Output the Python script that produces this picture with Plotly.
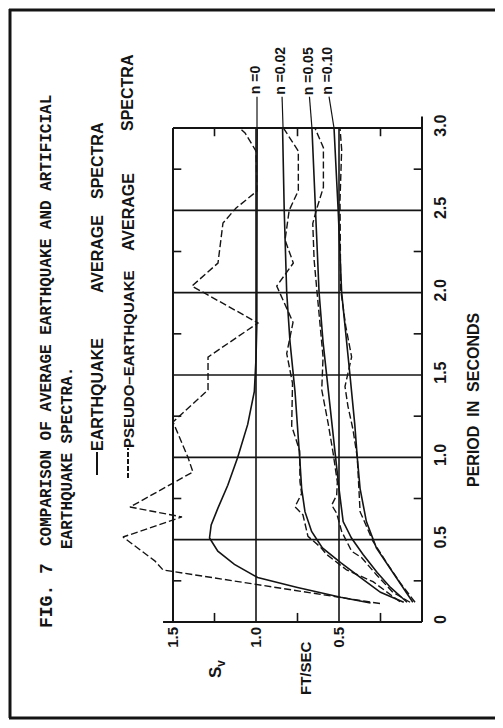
import plotly.graph_objects as go

# ---------------- data (period in seconds, Sv in ft/sec) ----------------
# Earthquake average spectra (solid)
eq_n0_period = [0.115, 0.15, 0.21, 0.27, 0.35, 0.43, 0.51, 0.59, 0.69, 0.83, 1.0, 1.2, 1.4, 1.6, 1.8, 2.2, 2.6, 3.0]
eq_n0_sv = [0.31, 0.49, 0.75, 0.99, 1.13, 1.23, 1.28, 1.27, 1.23, 1.17, 1.11, 1.05, 1.01, 1.0, 0.995, 0.993, 0.993, 0.993]

eq_n02_period = [0.12, 0.18, 0.27, 0.36, 0.45, 0.55, 0.67, 0.81, 1.0, 1.2, 1.4, 1.7, 2.0, 2.5, 3.0]
eq_n02_sv = [0.11, 0.25, 0.37, 0.49, 0.60, 0.665, 0.705, 0.725, 0.737, 0.75, 0.765, 0.795, 0.815, 0.83, 0.84]

eq_n05_period = [0.12, 0.21, 0.30, 0.41, 0.51, 0.61, 0.81, 1.0, 1.3, 1.5, 1.7, 2.0, 2.5, 3.0]
eq_n05_sv = [0.09, 0.19, 0.27, 0.355, 0.425, 0.475, 0.50, 0.52, 0.55, 0.574, 0.596, 0.62, 0.64, 0.663]

eq_n10_period = [0.12, 0.21, 0.33, 0.45, 0.61, 0.81, 1.0, 1.2, 1.5, 1.7, 2.0, 2.5, 3.0]
eq_n10_sv = [0.055, 0.115, 0.195, 0.275, 0.335, 0.373, 0.39, 0.405, 0.434, 0.454, 0.484, 0.505, 0.53]

# Pseudo-earthquake average spectra (dashed)
ps_n0_period = [0.112, 0.316, 0.37, 0.516, 0.638, 0.698, 0.911, 1.0, 1.215, 1.409, 1.609, 1.816, 2.04, 2.18,
                2.423, 2.514, 2.617, 2.86, 2.97, 3.0]
ps_n0_sv = [0.253, 1.56, 1.608, 1.801, 1.446, 1.759, 1.38, 1.41, 1.5, 1.289, 1.289, 0.988, 1.386, 1.229,
            1.199, 1.12, 0.994, 1.0, 1.066, 1.10]

ps_n02_period = [0.123, 0.245, 0.316, 0.41, 0.457, 0.52, 0.65, 0.70, 0.78, 0.85, 1.04, 1.19, 1.45, 1.63, 1.82,
                 2.04, 2.18, 2.32, 2.5, 2.62, 2.86, 3.0]
ps_n02_sv = [0.133, 0.295, 0.454, 0.574, 0.614, 0.687, 0.717, 0.765, 0.725, 0.735, 0.737, 0.785, 0.78, 0.815,
             0.777, 0.875, 0.775, 0.825, 0.80, 0.745, 0.745, 0.835]

ps_n05_period = [0.12, 0.18, 0.285, 0.39, 0.43, 0.55, 0.66, 0.71, 0.77, 0.85, 1.03, 1.21, 1.41, 1.61, 2.0, 2.2,
                 2.42, 2.51, 2.64, 2.88, 3.0]
ps_n05_sv = [0.072, 0.175, 0.273, 0.363, 0.424, 0.484, 0.514, 0.544, 0.514, 0.51, 0.536, 0.566, 0.604, 0.596,
             0.632, 0.65, 0.658, 0.634, 0.594, 0.594, 0.645]

ps_n10_period = [0.12, 0.24, 0.36, 0.49, 0.67, 0.85, 1.0, 1.17, 1.31, 1.43, 1.51, 1.61, 1.8, 2.02, 2.56, 2.87, 3.0]
ps_n10_sv = [0.042, 0.133, 0.213, 0.295, 0.373, 0.38, 0.39, 0.416, 0.446, 0.464, 0.445, 0.424, 0.46, 0.49,
             0.494, 0.484, 0.494]

# axes
sv_ticks = [0.5, 1.0, 1.5]
sv_tick_labels = ["0.5", "1.0", "1.5"]
sv_minor = [0.25, 0.75, 1.25]
period_ticks = [0, 0.5, 1.0, 1.5, 2.0, 2.5, 3.0]
period_tick_labels = ["0", "0.5", "1.0", "1.5", "2.0", "2.5", "3.0"]
period_minor = [0.25, 0.75, 1.25, 1.75, 2.25, 2.75]
sv_max, period_max = 1.5, 3.0

# damping labels
damping_labels = ["n =0", "n =0.02", "n =0.05", "n =0.10"]
damping_end_sv = [0.994, 0.837, 0.663, 0.53]
damping_label_sv = [1.006, 0.855, 0.69, 0.572]

INK = "#141414"

# ---------------- layout geometry ----------------
OFF = 8                              # page body margin of the html page
W, H = 503 - 2 * OFF, 728 - 2 * OFF  # figure fits the window with the body margins
PAGE_L, PAGE_R, PAGE_T, PAGE_B = 90, 429, 87, 629   # plot area in page pixels
L, T = PAGE_L - OFF, PAGE_T - OFF
R, B = W - (PAGE_R - OFF), H - (PAGE_B - OFF)
PW, PH = PAGE_R - PAGE_L, PAGE_B - PAGE_T
sv_per_px = 1 / 166.0
per_per_px = 3.0 / 494.0
x_range = [2.0, 2.0 - PW * sv_per_px]
y_range = [-(PAGE_B - 622) * per_per_px, (622 - PAGE_T) * per_per_px]


def px_x(px):
    return (px - PAGE_L) / PW


def px_y(py):
    return (PAGE_B - py) / PH


fig = go.Figure()

solid = [(eq_n0_period, eq_n0_sv), (eq_n02_period, eq_n02_sv), (eq_n05_period, eq_n05_sv), (eq_n10_period, eq_n10_sv)]
dashed = [(ps_n0_period, ps_n0_sv), (ps_n02_period, ps_n02_sv), (ps_n05_period, ps_n05_sv), (ps_n10_period, ps_n10_sv)]
for per, sv in solid:
    fig.add_trace(go.Scatter(x=sv, y=per, mode="lines", line=dict(color=INK, width=1.6), hoverinfo="skip"))
for per, sv in dashed:
    fig.add_trace(go.Scatter(x=sv, y=per, mode="lines", line=dict(color=INK, width=1.4, dash="7px,3px"),
                             hoverinfo="skip"))

shapes = []
frame_line = dict(color=INK, width=2)
grid_line = dict(color=INK, width=1.6)
shapes.append(dict(type="line", xref="x", yref="y", x0=sv_max, x1=sv_max, y0=0, y1=period_max, line=frame_line))
shapes.append(dict(type="line", xref="x", yref="y", x0=0, x1=0, y0=0, y1=period_max + 0.07, line=frame_line))
shapes.append(dict(type="line", xref="x", yref="y", x0=sv_max + 0.06, x1=0, y0=0, y1=0, line=frame_line))
shapes.append(dict(type="line", xref="x", yref="y", x0=sv_max, x1=0, y0=period_max, y1=period_max, line=frame_line))
for v in sv_ticks[:-1]:
    shapes.append(dict(type="line", xref="x", yref="y", x0=v, x1=v, y0=0, y1=period_max, line=grid_line))
for p in period_ticks[1:-1]:
    shapes.append(dict(type="line", xref="x", yref="y", x0=0, x1=sv_max, y0=p, y1=p, line=grid_line))
for v in sv_minor:
    shapes.append(dict(type="line", xref="x", yref="y", x0=v, x1=v, y0=0, y1=0.055, line=grid_line))
    shapes.append(dict(type="line", xref="x", yref="y", x0=v, x1=v, y0=period_max, y1=period_max - 0.05,
                       line=grid_line))
for p in period_minor:
    shapes.append(dict(type="line", xref="x", yref="y", x0=sv_max, x1=sv_max - 0.05, y0=p, y1=p, line=grid_line))
    shapes.append(dict(type="line", xref="x", yref="y", x0=0, x1=0.05, y0=p, y1=p, line=grid_line))
for s_end, s_lab in zip(damping_end_sv, damping_label_sv):
    shapes.append(dict(type="line", xref="x", yref="y", x0=s_end, x1=s_lab - 0.012, y0=period_max,
                       y1=period_max + 0.19, line=dict(color=INK, width=1.2)))
# legend samples
shapes.append(dict(type="line", xref="paper", yref="paper", x0=px_x(97), x1=px_x(97), y0=px_y(475), y1=px_y(452),
                   line=dict(color=INK, width=2)))
shapes.append(dict(type="line", xref="paper", yref="paper", x0=px_x(128), x1=px_x(128), y0=px_y(478),
                   y1=px_y(448), line=dict(color=INK, width=2, dash="5px,2px")))
# outer border (kept just inside the drawable figure area)
border = dict(color=INK, width=3)
shapes.append(dict(type="line", xref="paper", yref="paper", x0=px_x(10), x1=px_x(10), y0=px_y(9), y1=px_y(718),
                   line=border))
shapes.append(dict(type="line", xref="paper", yref="paper", x0=px_x(9), x1=px_x(503), y0=px_y(10), y1=px_y(10),
                   line=border))
shapes.append(dict(type="line", xref="paper", yref="paper", x0=px_x(9), x1=px_x(503), y0=px_y(718),
                   y1=px_y(718), line=border))

ann = []
sans_b = dict(family="Liberation Sans", color=INK, weight="bold")
mono = dict(family="Liberation Mono", color=INK, weight="bold")


def rot(text, cx, cy, font, size):
    f = dict(font)
    f["size"] = size
    ann.append(dict(text=text, x=px_x(cx), y=px_y(cy), xref="paper", yref="paper", showarrow=False,
                    textangle=-90, xanchor="center", yanchor="middle", font=f))


# title
rot("FIG. 7", 47, 595, mono, 18)
rot("COMPARISON OF AVERAGE EARTHQUAKE AND ARTIFICIAL", 47, 321, mono, 16)
rot("EARTHQUAKE SPECTRA.", 68, 458, mono, 16)
# legend text
rot("EARTHQUAKE", 97, 395, sans_b, 16)
rot("AVERAGE", 97, 254, sans_b, 16)
rot("SPECTRA", 97, 161, sans_b, 16)
rot("PSEUDO\u2013EARTHQUAKE", 128, 359, sans_b, 15)
rot("AVERAGE", 128, 212, sans_b, 16)
rot("SPECTRA", 128, 93, sans_b, 16)
# axis titles
rot("PERIOD\u00a0\u00a0IN\u00a0\u00a0SECONDS", 473, 400, sans_b, 16)
rot("S<sub>v</sub>", 217, 669, sans_b, 17)
rot("FT/SEC", 305, 668, sans_b, 15)

for text, s_lab in zip(damping_labels, damping_label_sv):
    ann.append(dict(text=text, x=s_lab, y=period_max + 0.19, xref="x", yref="y", showarrow=False,
                    textangle=-90, xanchor="center", yanchor="bottom",
                    font=dict(family="Liberation Sans", size=14, color=INK, weight="bold")))

fig.update_layout(
    width=W, height=H,
    margin=dict(l=L, r=R, t=T, b=B, pad=0),
    paper_bgcolor="white", plot_bgcolor="white",
    showlegend=False,
    shapes=shapes, annotations=ann,
    xaxis=dict(range=x_range, tickvals=sv_ticks, ticktext=sv_tick_labels, tickangle=-90, automargin=False,
               showgrid=False, zeroline=False, showline=False, ticks="", ticklabelstandoff=-6,
               tickfont=dict(family="Liberation Sans", size=15, color=INK, weight="bold")),
    yaxis=dict(range=y_range, side="right", tickvals=period_ticks, ticktext=period_tick_labels, tickangle=-90,
               automargin=False,
               showgrid=False, zeroline=False, showline=False, ticks="", ticklabelstandoff=0,
               tickfont=dict(family="Liberation Sans", size=16, color=INK, weight="bold")),
)

fig.write_html("out.html")
